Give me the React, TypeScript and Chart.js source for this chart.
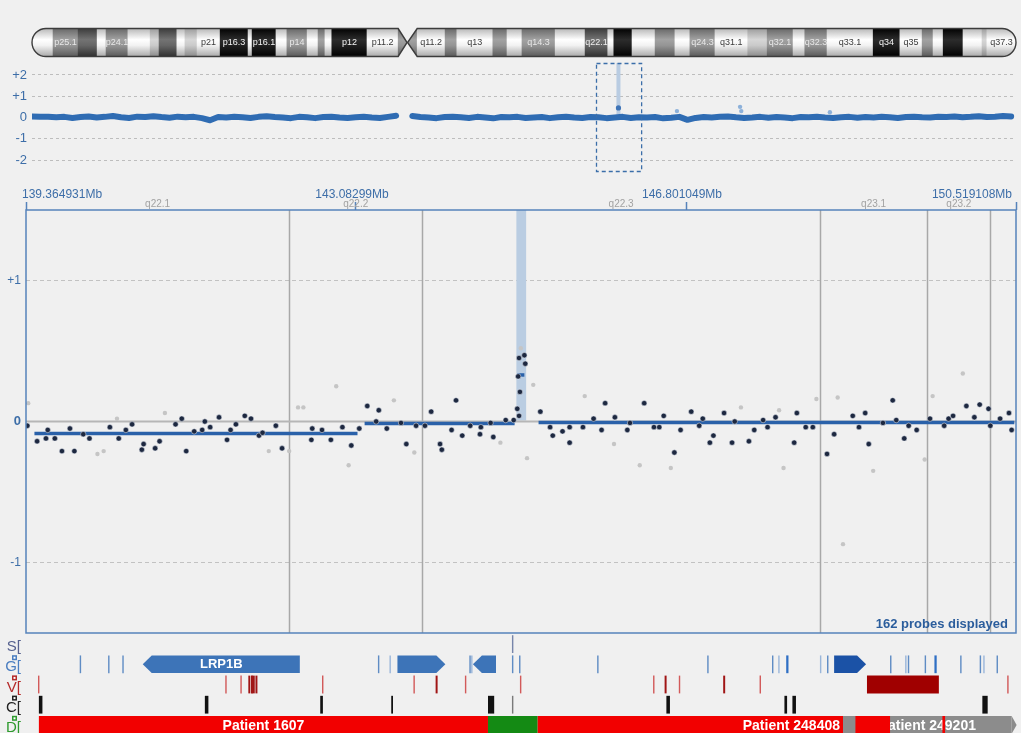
import React, { useEffect, useRef } from 'react';
import { Chart, registerables } from 'chart.js';

Chart.register(...registerables);

const FONT = '"Liberation Sans", Arial, Helvetica, sans-serif';
const BG = '#f0f0f0';
const AXIS_TEXT = '#3d6ea8';
const FRAME = '#5683bb';

// ---------- Chromosome 2 ideogram (Mb) ----------
const CHR_LENGTH = 243.2;
const CEN_P_END = 90.5;
const CEN_MID = 92.7;
const CEN_Q_START = 95.2;
const BAND_START = [0, 5.2, 11.4, 16.1, 18.3, 23.7, 29.2, 31.4, 35.8, 37.8, 40.8, 46.5, 53.4, 54.4, 60.3, 63.0, 68.0, 70.7, 72.4, 74.1, 82.8, 90.5, 92.7, 95.2, 102.1, 105.0, 113.9, 117.4, 121.1, 129.3, 136.7, 142.3, 143.8, 148.3, 154.0, 158.9, 162.6, 168.8, 176.9, 181.7, 188.1, 191.0, 196.5, 207.9, 214.5, 220.0, 222.7, 225.2, 230.1, 234.8, 236.0];
const BAND_END = [5.2, 11.4, 16.1, 18.3, 23.7, 29.2, 31.4, 35.8, 37.8, 40.8, 46.5, 53.4, 54.4, 60.3, 63.0, 68.0, 70.7, 72.4, 74.1, 82.8, 90.5, 92.7, 95.2, 102.1, 105.0, 113.9, 117.4, 121.1, 129.3, 136.7, 142.3, 143.8, 148.3, 154.0, 158.9, 162.6, 168.8, 176.9, 181.7, 188.1, 191.0, 196.5, 207.9, 214.5, 220.0, 222.7, 225.2, 230.1, 234.8, 236.0, 243.2];
const BAND_STAIN = ['w', 'g2', 'g3', 'w', 'g2', 'w', 'g1', 'g3', 'w', 'g1', 'w', 'b', 'w', 'b', 'w', 'g2', 'w', 'g2', 'w', 'b', 'w', 'g2', 'g2', 'w', 'g2', 'w', 'g2', 'w', 'g2', 'w', 'g3', 'w', 'b', 'w', 'g2', 'w', 'g2', 'w', 'g1', 'g2', 'w', 'g2', 'w', 'b', 'w', 'g2', 'w', 'b', 'w', 'g1', 'w'];
const BAND_NAME = ['', 'p25.1', '', '', 'p24.1', '', '', '', '', '', 'p21', 'p16.3', '', 'p16.1', '', 'p14', '', '', '', 'p12', 'p11.2', '', '', 'q11.2', '', 'q13', '', '', 'q14.3', '', 'q22.1', '', '', '', '', '', 'q24.3', 'q31.1', '', 'q32.1', '', 'q32.3', 'q33.1', 'q34', 'q35', '', '', '', '', '', 'q37.3'];

// ---------- Whole-chromosome profile (log2 ratio, 2 Mb bins) ----------
const MINI_BIN = 2;
const MINI_P_START = 0;
const MINI_P = [0.05, 0.03, 0.04, 0.01, 0.03, -0.02, 0.02, 0.05, 0.00, 0.03,
  0.07, 0.01, -0.02, 0.04, 0.02, 0.06, 0.02, -0.01, 0.04, 0.01,
  0.03, -0.03, -0.13, 0.02, 0.00, 0.04, 0.01, -0.02, 0.03, 0.06,
  0.02, 0.00, -0.03, 0.03, 0.01, -0.03, 0.02, 0.04, 0.00, -0.02,
  0.01, 0.03, 0.00, -0.02, 0.03, 0.08];
const MINI_Q_START = 94;
const MINI_Q = [0.07, 0.02, 0.00, -0.03, 0.02, 0.04, 0.01, -0.02, 0.03, 0.00,
  -0.04, 0.02, 0.01, 0.03, -0.02, 0.00, 0.02, -0.03, 0.01, 0.04,
  0.00, -0.02, 0.02, 0.01, -0.03, 0.00, 0.03, -0.02, 0.01, 0.00,
  0.02, -0.04, -0.01, 0.03, -0.11, -0.02, 0.02, 0.00, 0.03, 0.05,
  0.01, -0.02, 0.00, 0.03, -0.01, 0.02, 0.00, -0.03, 0.02, 0.01,
  0.04, 0.00, -0.02, 0.01, 0.03, -0.01, 0.02, 0.00, 0.03, 0.01,
  -0.02, 0.02, 0.04, 0.01, 0.00, 0.03, 0.02, 0.05, 0.01, 0.03,
  0.06, 0.02, 0.04, 0.07, 0.05];
const MINI_OUT_X = [159.4, 175.0, 175.3, 197.2];
const MINI_OUT_Y = [0.3, 0.5, 0.3, 0.25];
const MINI_HL_VALUE = 0.45;
const MINI_Y_TICKS = [-2, -1, 0, 1, 2];

// ---------- Zoomed view ----------
const X_MIN = 139.364931;
const X_MAX = 150.519108;
const X_TICKS = [139.364931, 143.08299, 146.801049, 150.519108];
const MAIN_Y_TICKS = [-1, 0, 1];
const HL_START = 144.89;
const HL_END = 145.0;
const VIEW_BAND_START = [136.7, 142.33, 143.83, 148.31, 149.52, 150.23];
const VIEW_BAND_END = [142.33, 143.83, 148.31, 149.52, 150.23, 154.0];
const VIEW_BAND_NAME = ['q22.1', 'q22.2', 'q22.3', 'q23.1', 'q23.2', 'q23.3'];

const DARK_X = [139.38, 139.49, 139.59, 139.61, 139.69, 139.77, 139.86, 139.91, 140.01, 140.08,
  140.31, 140.41, 140.49, 140.56, 140.67, 140.69, 140.82, 140.87, 141.05, 141.12,
  141.17, 141.26, 141.35, 141.38, 141.44, 141.54, 141.63, 141.67, 141.73, 141.83,
  141.90, 141.99, 142.03, 142.18, 142.25, 142.58, 142.59, 142.70, 142.80, 142.93,
  143.03, 143.12, 143.21, 143.31, 143.34, 143.43, 143.59, 143.65, 143.76, 143.86,
  143.93, 144.03, 144.05, 144.16, 144.21, 144.28, 144.37, 144.48, 144.49, 144.60,
  144.63, 144.77, 144.86, 144.90, 144.91, 144.92, 144.92, 144.93, 144.98, 144.99,
  145.16, 145.27, 145.30, 145.41, 145.49, 145.49, 145.64, 145.76, 145.85, 145.89,
  146.00, 146.14, 146.17, 146.33, 146.44, 146.50, 146.55, 146.67, 146.74, 146.86,
  146.95, 146.99, 147.07, 147.11, 147.23, 147.32, 147.35, 147.51, 147.57, 147.67,
  147.72, 147.81, 148.02, 148.05, 148.15, 148.23, 148.39, 148.47, 148.68, 148.75,
  148.82, 148.86, 149.02, 149.13, 149.17, 149.26, 149.31, 149.40, 149.55, 149.71,
  149.76, 149.81, 149.96, 150.05, 150.11, 150.21, 150.23, 150.34, 150.44, 150.47];
const DARK_Y = [-0.03, -0.14, -0.12, -0.06, -0.12, -0.21, -0.05, -0.21, -0.09, -0.12,
  -0.04, -0.12, -0.06, -0.02, -0.20, -0.16, -0.19, -0.14, -0.02, 0.02,
  -0.21, -0.07, -0.06, 0.00, -0.04, 0.03, -0.13, -0.06, -0.02, 0.04,
  0.02, -0.10, -0.08, -0.03, -0.19, -0.13, -0.05, -0.06, -0.13, -0.04,
  -0.17, -0.05, 0.11, 0.00, 0.08, -0.05, -0.01, -0.16, -0.03, -0.03,
  0.07, -0.16, -0.20, -0.06, 0.15, -0.10, -0.03, -0.09, -0.04, -0.01,
  -0.11, 0.01, 0.01, 0.09, 0.32, 0.04, 0.45, 0.21, 0.47, 0.41,
  0.07, -0.04, -0.10, -0.07, -0.04, -0.15, -0.04, 0.02, -0.06, 0.13,
  0.03, -0.06, -0.01, 0.13, -0.04, -0.04, 0.04, -0.22, -0.06, 0.07,
  -0.03, 0.02, -0.15, -0.10, 0.06, -0.15, 0.00, -0.14, -0.06, 0.01,
  -0.04, 0.03, -0.15, 0.06, -0.04, -0.04, -0.23, -0.09, 0.04, -0.04,
  0.06, -0.16, -0.01, 0.15, 0.01, -0.12, -0.03, -0.06, 0.02, -0.03,
  0.02, 0.04, 0.11, 0.03, 0.12, 0.09, -0.03, 0.02, 0.06, -0.06];
const GRAY_X = [139.39, 140.17, 140.24, 140.39, 140.93, 142.10, 142.33, 142.43, 142.49, 142.86, 143.00, 143.51, 143.74, 144.71, 144.94, 145.01, 145.08, 145.66, 145.99, 146.28, 146.63, 147.42, 147.85, 147.90, 148.27, 148.51, 148.57, 148.91, 149.49, 149.58, 149.92];
const GRAY_Y = [0.13, -0.23, -0.21, 0.02, 0.06, -0.21, -0.21, 0.10, 0.10, 0.25, -0.31, 0.15, -0.22, -0.15, 0.52, -0.26, 0.26, 0.18, -0.16, -0.31, -0.33, 0.10, 0.08, -0.33, 0.16, 0.17, -0.87, -0.35, -0.27, 0.18, 0.34];
const SEG_START = [139.46, 143.18, 144.90, 145.14];
const SEG_END = [143.10, 144.87, 144.98, 150.50];
const SEG_VALUE = [-0.085, -0.014, 0.33, -0.007];
const PROBE_TEXT = '162 probes displayed';

// ---------- Annotation tracks ----------
const TRACK_NAMES = ['S', 'G', 'V', 'C', 'D'];
const TRACK_COLORS = ['#56618f', '#4a7dc0', '#b52a2a', '#222222', '#2e9a2e'];
const S_MARKS = [144.84];
const G_LINES = [139.97, 140.29, 140.45, 143.33, 144.36, 144.84, 144.92, 145.80, 147.04, 147.77, 148.39, 149.10, 149.30, 149.49, 149.89, 150.11, 150.30];
const G_LINES_LIGHT = [143.46, 144.38, 147.84, 148.31, 149.27, 150.15];
const G_LINES_STRONG = [147.93, 149.60];
const GENE_START = [140.68, 143.55, 144.40, 148.47];
const GENE_END = [142.45, 144.09, 144.66, 148.83];
const GENE_STRAND = [-1, 1, -1, 1];
const GENE_NAME = ['LRP1B', '', '', ''];
const GENE_COLOR = ['#3d74b8', '#3d74b8', '#3d74b8', '#1b52a6'];
const V_LIGHT = [139.50, 141.61, 141.78, 142.70, 143.73, 144.31, 144.93, 146.43, 146.72, 147.63, 150.42];
const V_DARK = [141.87, 141.90, 141.92, 141.95, 143.98, 146.56, 147.22];
const V_BLOCK_START = [148.84];
const V_BLOCK_END = [149.65];
const C_START = [139.51, 141.38, 142.68, 143.48, 144.57, 146.58, 147.91, 148.00, 150.14];
const C_END = [139.55, 141.42, 142.71, 143.50, 144.64, 146.62, 147.94, 148.04, 150.20];
const C_GRAY = [144.84];
const PATIENT_START = [139.51, 144.57, 145.13, 148.57];
const PATIENT_END = [144.57, 145.13, 148.57, 150.47];
const PATIENT_LABEL = ['Patient 1607', '', 'Patient 248408', 'Patient 249201'];
const PATIENT_LABEL_ALIGN = ['center', 'center', 'end', 'center'];
const PATIENT_COLOR = ['#f20000', '#148a14', '#f20000', '#8c8c8c'];
const PATIENT_ARROW = [false, false, false, true];
const OVERLAY_START = [148.71, 149.69];
const OVERLAY_END = [149.10, 149.72];

const THIN = 0.016;

const STAIN_STOPS = {
  w: ['#b4b4b4', '#ffffff', '#f2f2f2', '#a6a6a6'],
  g1: ['#9a9a9a', '#d6d6d6', '#cacaca', '#888888'],
  g2: ['#666666', '#a2a2a2', '#959595', '#585858'],
  g3: ['#3a3a3a', '#737373', '#666666', '#2e2e2e'],
  b: ['#000000', '#2c2c2c', '#202020', '#000000'],
};
const STAIN_TEXT = { w: '#3a3a3a', g1: '#3a3a3a', g2: '#e8e8e8', g3: '#eeeeee', b: '#f4f4f4' };

function bandFill(c) {
  const chart = c.chart;
  const a = chart.chartArea;
  const stain = BAND_STAIN[c.dataIndex] || 'w';
  const stops = STAIN_STOPS[stain];
  if (!a || c.dataIndex === undefined) return stops[1];
  const g = chart.ctx.createLinearGradient(0, a.top, 0, a.bottom);
  g.addColorStop(0, stops[0]);
  g.addColorStop(0.4, stops[1]);
  g.addColorStop(0.6, stops[2]);
  g.addColorStop(1, stops[3]);
  return g;
}

const ideogramPlugin = {
  id: 'ideogramOutline',
  afterDatasetsDraw(chart) {
    const { ctx, chartArea: a } = chart;
    const x = chart.scales.x;
    const yT = a.top + 0.5;
    const yB = a.bottom - 0.5;
    const yM = (yT + yB) / 2;
    const r = (yB - yT) / 2;
    const x0 = x.getPixelForValue(0);
    const x1 = x.getPixelForValue(CHR_LENGTH);
    const pE = x.getPixelForValue(CEN_P_END);
    const cM = x.getPixelForValue(CEN_MID);
    const qS = x.getPixelForValue(CEN_Q_START);
    const pPath = new Path2D();
    pPath.moveTo(x0 + r, yT);
    pPath.lineTo(pE, yT);
    pPath.lineTo(cM, yM);
    pPath.lineTo(pE, yB);
    pPath.lineTo(x0 + r, yB);
    pPath.arc(x0 + r, yM, r, Math.PI / 2, (3 * Math.PI) / 2);
    pPath.closePath();
    const qPath = new Path2D();
    qPath.moveTo(qS, yT);
    qPath.lineTo(x1 - r, yT);
    qPath.arc(x1 - r, yM, r, -Math.PI / 2, Math.PI / 2);
    qPath.lineTo(qS, yB);
    qPath.lineTo(cM + 0.5, yM);
    qPath.closePath();
    const mask = new Path2D();
    mask.rect(a.left - 4, a.top - 4, a.right - a.left + 8, a.bottom - a.top + 8);
    mask.addPath(pPath);
    mask.addPath(qPath);
    ctx.save();
    ctx.fillStyle = BG;
    ctx.fill(mask, 'evenodd');
    ctx.strokeStyle = '#3c3c3c';
    ctx.lineWidth = 1.4;
    ctx.stroke(pPath);
    ctx.stroke(qPath);
    ctx.font = `9px ${FONT}`;
    ctx.textAlign = 'center';
    ctx.textBaseline = 'middle';
    BAND_NAME.forEach((n, i) => {
      if (!n) return;
      const cx = (x.getPixelForValue(BAND_START[i]) + x.getPixelForValue(BAND_END[i])) / 2;
      ctx.fillStyle = STAIN_TEXT[BAND_STAIN[i]];
      ctx.fillText(n, cx, yM + 0.5);
    });
    ctx.restore();
  },
};

const miniPlugin = {
  id: 'miniDecor',
  beforeDatasetsDraw(chart) {
    const { ctx, chartArea: a } = chart;
    const { x, y } = chart.scales;
    const c0 = x.getPixelForValue(HL_START);
    const c1 = x.getPixelForValue(HL_END);
    const cx = (c0 + c1) / 2;
    const w = Math.max(4, c1 - c0);
    ctx.save();
    ctx.fillStyle = '#b9cce2';
    ctx.fillRect(cx - w / 2, a.top, w, y.getPixelForValue(0) - a.top);
    ctx.restore();
  },
  afterDatasetsDraw(chart) {
    const { ctx, chartArea: a } = chart;
    const { x } = chart.scales;
    const b0 = x.getPixelForValue(X_MIN);
    const b1 = x.getPixelForValue(X_MAX);
    ctx.save();
    ctx.strokeStyle = '#3b6ea9';
    ctx.lineWidth = 1.3;
    ctx.setLineDash([4, 3]);
    ctx.strokeRect(Math.round(b0) + 0.5, a.top + 0.5, b1 - b0, a.bottom - a.top - 1);
    ctx.restore();
  },
};

const mainPlugin = {
  id: 'mainDecor',
  beforeDatasetsDraw(chart) {
    const { ctx, chartArea: a } = chart;
    const { x, y } = chart.scales;
    ctx.save();
    ctx.beginPath();
    ctx.rect(a.left, a.top, a.right - a.left, a.bottom - a.top);
    ctx.clip();
    ctx.strokeStyle = '#a8a8a8';
    ctx.lineWidth = 1.5;
    VIEW_BAND_START.forEach((s) => {
      if (s <= X_MIN || s >= X_MAX) return;
      const px = Math.round(x.getPixelForValue(s)) + 0.5;
      ctx.beginPath();
      ctx.moveTo(px, a.top);
      ctx.lineTo(px, a.bottom);
      ctx.stroke();
    });
    const c0 = x.getPixelForValue(HL_START);
    const c1 = x.getPixelForValue(HL_END);
    ctx.fillStyle = '#bacde2';
    ctx.fillRect(c0, a.top, c1 - c0, y.getPixelForValue(0) - a.top - 1);
    ctx.restore();
  },
  afterDraw(chart) {
    const { ctx, chartArea: a } = chart;
    const { x } = chart.scales;
    ctx.save();
    ctx.strokeStyle = FRAME;
    ctx.lineWidth = 1.5;
    ctx.strokeRect(a.left, a.top, a.right - a.left, a.bottom - a.top);
    ctx.font = `10px ${FONT}`;
    ctx.fillStyle = '#a2a2a2';
    ctx.textAlign = 'center';
    ctx.textBaseline = 'middle';
    VIEW_BAND_NAME.forEach((n, i) => {
      const s = Math.max(VIEW_BAND_START[i], X_MIN);
      const e = Math.min(VIEW_BAND_END[i], X_MAX);
      const ps = x.getPixelForValue(s);
      const pe = x.getPixelForValue(e);
      if (pe - ps < 40) return;
      ctx.fillText(n, (ps + pe) / 2, a.top - 6);
    });
    ctx.font = `bold 13px ${FONT}`;
    ctx.fillStyle = '#2b5d9c';
    ctx.textAlign = 'right';
    ctx.fillText(PROBE_TEXT, a.right - 8, a.bottom - 9);
    ctx.restore();
  },
};

const tracksPlugin = {
  id: 'tracksDecor',
  afterDatasetDraw(chart, args) {
    if (args.index !== 1) return;
    const { ctx } = chart;
    const { x, y } = chart.scales;
    const row = TRACK_NAMES.indexOf('D');
    const yc = y.getPixelForValue(row);
    const rh = Math.abs(y.getPixelForValue(1) - y.getPixelForValue(0)) * 0.88;
    ctx.save();
    PATIENT_ARROW.forEach((arrow, i) => {
      if (!arrow) return;
      const e = x.getPixelForValue(PATIENT_END[i]);
      ctx.fillStyle = PATIENT_COLOR[i];
      ctx.beginPath();
      ctx.moveTo(e, yc - rh / 2);
      ctx.lineTo(e + 5, yc);
      ctx.lineTo(e, yc + rh / 2);
      ctx.closePath();
      ctx.fill();
    });
    ctx.font = `bold 14px ${FONT}`;
    ctx.fillStyle = '#ffffff';
    ctx.textBaseline = 'middle';
    PATIENT_LABEL.forEach((t, i) => {
      if (!t) return;
      const s = x.getPixelForValue(PATIENT_START[i]);
      const e = x.getPixelForValue(PATIENT_END[i]);
      if (PATIENT_LABEL_ALIGN[i] === 'end') {
        ctx.textAlign = 'right';
        ctx.fillText(t, e - 3, yc + 1);
      } else {
        ctx.textAlign = 'center';
        ctx.fillText(t, (s + e) / 2, yc + 1);
      }
    });
    ctx.restore();
  },
  afterDatasetsDraw(chart) {
    const { ctx } = chart;
    const { x, y } = chart.scales;
    const row = TRACK_NAMES.indexOf('G');
    const yc = y.getPixelForValue(row);
    const h = Math.abs(y.getPixelForValue(1) - y.getPixelForValue(0)) * 0.86;
    const top = yc - h / 2;
    const bot = yc + h / 2;
    const head = 9;
    ctx.save();
    GENE_START.forEach((s, i) => {
      const x0 = x.getPixelForValue(s);
      const x1 = x.getPixelForValue(GENE_END[i]);
      ctx.fillStyle = GENE_COLOR[i];
      ctx.beginPath();
      if (GENE_STRAND[i] < 0) {
        ctx.moveTo(x0, yc);
        ctx.lineTo(x0 + head, top);
        ctx.lineTo(x1, top);
        ctx.lineTo(x1, bot);
        ctx.lineTo(x0 + head, bot);
      } else {
        ctx.moveTo(x0, top);
        ctx.lineTo(x1 - head, top);
        ctx.lineTo(x1, yc);
        ctx.lineTo(x1 - head, bot);
        ctx.lineTo(x0, bot);
      }
      ctx.closePath();
      ctx.fill();
      if (GENE_NAME[i]) {
        ctx.font = `bold 13px ${FONT}`;
        ctx.fillStyle = '#ffffff';
        ctx.textAlign = 'center';
        ctx.textBaseline = 'middle';
        ctx.fillText(GENE_NAME[i], (x0 + x1) / 2, yc + 0.5);
      }
    });
    ctx.restore();
  },
  afterDraw(chart) {
    const { ctx } = chart;
    const { y } = chart.scales;
    const rh = Math.abs(y.getPixelForValue(1) - y.getPixelForValue(0));
    ctx.save();
    TRACK_NAMES.forEach((n, i) => {
      if (i === 0) return;
      const rowTop = y.getPixelForValue(i) - rh / 2;
      ctx.fillStyle = TRACK_COLORS[i];
      ctx.fillRect(12, rowTop + 1, 5, 5);
      ctx.fillStyle = '#ffffff';
      ctx.fillRect(13.5, rowTop + 2.5, 2, 2);
    });
    ctx.restore();
  },
};

const noPlugins = { legend: { display: false }, tooltip: { enabled: false } };

function ideogramConfig() {
  return {
    type: 'bar',
    data: {
      labels: ['chr2'],
      datasets: [{
        data: BAND_START.map((s, i) => ({ x: [s, BAND_END[i]], y: 'chr2' })),
        backgroundColor: bandFill,
        borderWidth: 0,
        barPercentage: 1,
        categoryPercentage: 1,
        grouped: false,
      }],
    },
    options: {
      indexAxis: 'y',
      responsive: false,
      animation: false,
      events: [],
      layout: { autoPadding: false, padding: { left: 32, right: 5, top: 28, bottom: 5 } },
      scales: {
        x: { type: 'linear', display: false, min: 0, max: CHR_LENGTH },
        y: { type: 'category', display: false },
      },
      plugins: noPlugins,
    },
    plugins: [ideogramPlugin],
  };
}

function miniConfig() {
  const lineStyle = { type: 'line', showLine: true, borderColor: '#2f6cb3', borderWidth: 6, pointRadius: 0, borderJoinStyle: 'round', borderCapStyle: 'round', order: 3 };
  return {
    type: 'scatter',
    data: {
      datasets: [
        { ...lineStyle, data: MINI_P.map((v, i) => ({ x: MINI_P_START + i * MINI_BIN, y: v })) },
        { ...lineStyle, data: MINI_Q.map((v, i) => ({ x: MINI_Q_START + i * MINI_BIN, y: v })) },
        { data: MINI_OUT_X.map((v, i) => ({ x: v, y: MINI_OUT_Y[i] })), backgroundColor: '#8db1da', borderWidth: 0, pointRadius: 2.2, order: 2 },
        { data: [{ x: (HL_START + HL_END) / 2, y: MINI_HL_VALUE }], backgroundColor: '#3f74b7', borderWidth: 0, pointRadius: 2.6, order: 1 },
      ],
    },
    options: {
      responsive: false,
      animation: false,
      events: [],
      layout: { autoPadding: false, padding: { left: 0, right: 5, top: 1, bottom: 8 } },
      scales: {
        x: { type: 'linear', display: false, min: 0, max: CHR_LENGTH },
        y: {
          type: 'linear',
          min: -2.56,
          max: 2.56,
          afterBuildTicks: (s) => { s.ticks = MINI_Y_TICKS.map((v) => ({ value: v })); },
          afterFit: (s) => { s.width = 32; s.paddingTop = 0; s.paddingBottom = 0; },
          ticks: {
            color: AXIS_TEXT,
            font: { size: 13, family: FONT },
            padding: 5,
            autoSkip: false,
            callback: (v) => (v > 0 ? `+${v}` : `${v}`),
          },
          grid: {
            color: (c) => (c.tick && c.tick.value === 0 ? 'rgba(0,0,0,0)' : '#bdbdbd'),
            drawTicks: false,
            lineWidth: 1,
          },
          border: { display: false, dash: [3, 3] },
        },
      },
      plugins: noPlugins,
    },
    plugins: [miniPlugin],
  };
}

function mainConfig() {
  return {
    type: 'scatter',
    data: {
      datasets: [
        { type: 'line', showLine: true, data: [{ x: X_MIN, y: 0 }, { x: X_MAX, y: 0 }], borderColor: '#b6b6b6', borderWidth: 2, pointRadius: 0, order: 5 },
        { data: GRAY_X.map((v, i) => ({ x: v, y: GRAY_Y[i] })), backgroundColor: '#c5c5c5', borderWidth: 0, pointRadius: 2.2, order: 4 },
        ...SEG_START.map((s, i) => ({
          type: 'line',
          showLine: true,
          data: [{ x: s, y: SEG_VALUE[i] }, { x: SEG_END[i], y: SEG_VALUE[i] }],
          borderColor: '#2a61a9',
          borderWidth: 3.5,
          pointRadius: 0,
          borderCapStyle: 'butt',
          order: 3,
        })),
        { data: DARK_X.map((v, i) => ({ x: v, y: DARK_Y[i] })), backgroundColor: '#1d2840', borderColor: 'rgba(230,234,242,0.75)', borderWidth: 0.7, pointRadius: 2.7, order: 1 },
      ],
    },
    options: {
      responsive: false,
      animation: false,
      events: [],
      layout: { autoPadding: false, padding: { left: 0, right: 5, top: 0, bottom: 1 } },
      scales: {
        x: {
          type: 'linear',
          position: 'top',
          min: X_MIN,
          max: X_MAX,
          afterBuildTicks: (s) => { s.ticks = X_TICKS.map((v) => ({ value: v })); },
          afterFit: (s) => { s.height = 30; s.paddingLeft = 0; s.paddingRight = 0; },
          ticks: {
            align: 'inner',
            autoSkip: false,
            maxRotation: 0,
            minRotation: 0,
            padding: 0,
            labelOffset: -4,
            color: AXIS_TEXT,
            font: { size: 12, family: FONT },
            callback: (v) => `${v}Mb`,
          },
          grid: { drawOnChartArea: false, drawTicks: true, tickLength: 8, tickColor: FRAME, tickWidth: 1.5, color: FRAME },
          border: { display: false },
        },
        y: {
          type: 'linear',
          min: -1.5,
          max: 1.5,
          afterBuildTicks: (s) => { s.ticks = MAIN_Y_TICKS.map((v) => ({ value: v })); },
          afterFit: (s) => { s.width = 26; s.paddingTop = 0; s.paddingBottom = 0; },
          ticks: {
            color: AXIS_TEXT,
            padding: 5,
            autoSkip: false,
            font: (c) => ({ size: c.tick && c.tick.value === 0 ? 13 : 12, family: FONT, weight: c.tick && c.tick.value === 0 ? 'bold' : 'normal' }),
            callback: (v) => (v > 0 ? `+${v}` : `${v}`),
          },
          grid: {
            color: (c) => (c.tick && c.tick.value === 0 ? 'rgba(0,0,0,0)' : '#c2c2c2'),
            drawTicks: false,
            lineWidth: 1,
          },
          border: { display: false, dash: [4, 3] },
        },
      },
      plugins: noPlugins,
    },
    plugins: [mainPlugin],
  };
}

function tracksConfig() {
  const bar = { borderWidth: 0, barPercentage: 0.88, categoryPercentage: 1, grouped: false };
  const marks = (arr, row, w) => arr.map((p) => ({ x: [p, p + w], y: row }));
  const spans = (st, en, row) => st.map((s, i) => ({ x: [s, en[i]], y: row }));
  return {
    type: 'bar',
    data: {
      labels: TRACK_NAMES,
      datasets: [
        { ...bar, data: spans(OVERLAY_START, OVERLAY_END, 'D'), backgroundColor: '#f20000' },
        { ...bar, data: spans(PATIENT_START, PATIENT_END, 'D'), backgroundColor: PATIENT_COLOR },
        { ...bar, data: marks(S_MARKS, 'S', THIN), backgroundColor: '#7785aa' },
        { ...bar, data: marks(G_LINES, 'G', THIN), backgroundColor: '#5f8cc4' },
        { ...bar, data: marks(G_LINES_LIGHT, 'G', THIN), backgroundColor: '#9ab6da' },
        { ...bar, data: marks(G_LINES_STRONG, 'G', THIN * 1.6), backgroundColor: '#2f6fc4' },
        { ...bar, data: marks(V_LIGHT, 'V', THIN), backgroundColor: '#d25a5a' },
        { ...bar, data: marks(V_DARK, 'V', THIN * 1.4), backgroundColor: '#a01515' },
        { ...bar, data: spans(V_BLOCK_START, V_BLOCK_END, 'V'), backgroundColor: '#a00000' },
        { ...bar, data: spans(C_START, C_END, 'C'), backgroundColor: '#111111' },
        { ...bar, data: marks(C_GRAY, 'C', THIN), backgroundColor: '#7a7a7a' },
      ],
    },
    options: {
      indexAxis: 'y',
      responsive: false,
      animation: false,
      events: [],
      layout: { autoPadding: false, padding: { left: 0, right: 5, top: 0, bottom: 0 } },
      scales: {
        x: { type: 'linear', display: false, min: X_MIN, max: X_MAX },
        y: {
          type: 'category',
          afterFit: (s) => { s.width = 26; s.paddingTop = 0; s.paddingBottom = 0; },
          ticks: {
            padding: 5,
            labelOffset: 3,
            autoSkip: false,
            color: (c) => TRACK_COLORS[c.index] || '#333',
            font: { size: 15, family: FONT },
            callback: (v, i) => `${TRACK_NAMES[i]}[`,
          },
          grid: { display: false, drawTicks: false },
          border: { display: false },
        },
      },
      plugins: noPlugins,
    },
    plugins: [tracksPlugin],
  };
}

export default function App() {
  const ideoRef = useRef(null);
  const miniRef = useRef(null);
  const mainRef = useRef(null);
  const tracksRef = useRef(null);

  useEffect(() => {
    Chart.defaults.font.family = FONT;
    const charts = [
      new Chart(ideoRef.current, ideogramConfig()),
      new Chart(miniRef.current, miniConfig()),
      new Chart(mainRef.current, mainConfig()),
      new Chart(tracksRef.current, tracksConfig()),
    ];
    return () => charts.forEach((c) => c.destroy());
  }, []);

  const abs = (top, h) => ({ position: 'absolute', left: 0, top, width: 1021, height: h, display: 'block' });

  return (
    <div style={{ position: 'fixed', left: 0, top: 0, width: 1021, height: 733, overflow: 'hidden', background: BG }}>
      <canvas ref={ideoRef} width={1021} height={62} style={abs(0, 62)} />
      <canvas ref={miniRef} width={1021} height={118} style={abs(62, 118)} />
      <canvas ref={mainRef} width={1021} height={454} style={abs(180, 454)} />
      <canvas ref={tracksRef} width={1021} height={101} style={abs(634, 101)} />
    </div>
  );
}
